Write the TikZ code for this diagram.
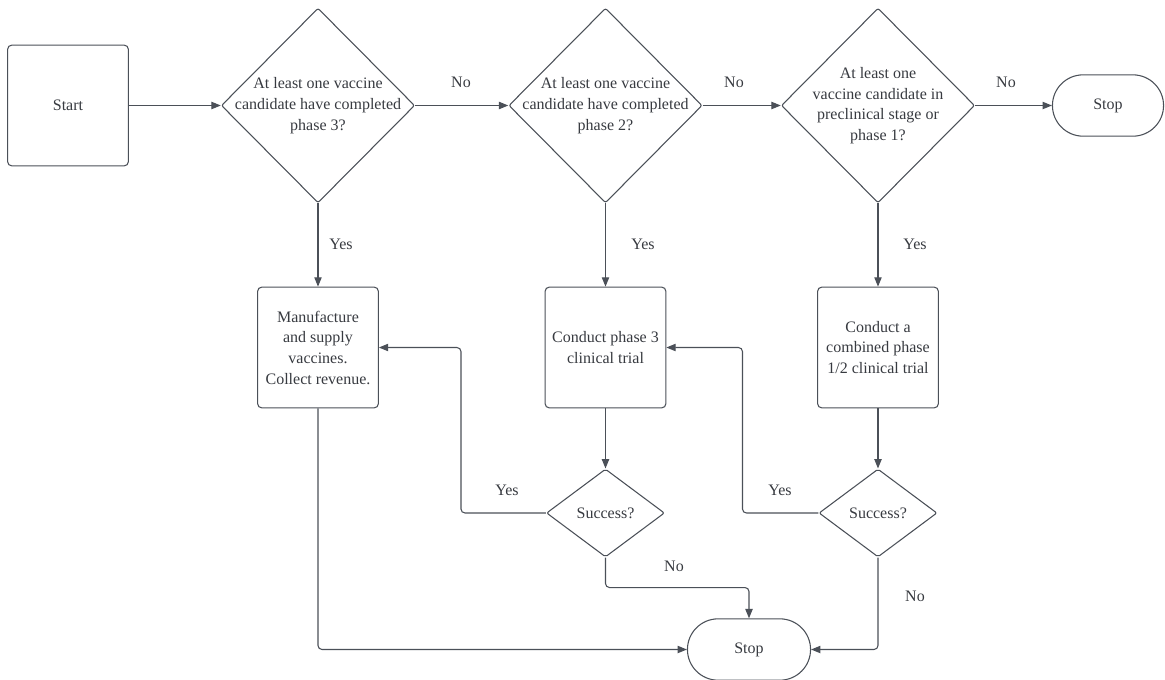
\documentclass[tikz,border=0pt]{standalone}
\usepackage{fontspec}
\setmainfont{Liberation Serif}
\usetikzlibrary{shapes.geometric, shapes.misc, arrows.meta}
\definecolor{FlowLine}{RGB}{75,80,88}
\definecolor{FlowText}{RGB}{55,58,64}

\begin{document}
\begin{tikzpicture}[x=0.75pt, y=-0.75pt,
            bx/.style={rectangle, draw=FlowLine, line width=0.8pt, rounded corners=3pt,
                       minimum width=90.5pt, minimum height=90.5pt, align=center,
                       font=\fontsize{12}{15.5}\selectfont, text=FlowText},
            dec/.style={diamond, draw=FlowLine, line width=0.8pt, inner sep=0pt,
                        rounded corners=1.5pt},
            qtxt/.style={align=center, font=\fontsize{12}{15.5}\selectfont, text=FlowText},
            term/.style={rounded rectangle, draw=FlowLine, line width=0.8pt,
                         minimum height=46pt, font=\fontsize{12}{15.5}\selectfont, text=FlowText},
            lab/.style={font=\fontsize{12}{15.5}\selectfont, text=FlowText},
            arr/.style={-{Triangle[length=7pt, width=5.5pt]}, draw=FlowLine,
                        line width=0.8pt, rounded corners=3pt}
          ]
          \clip (0,0) rectangle (1165,679);
          % top row
          \node[bx] (start) at (68,105.5) {Start};
          \node[dec, minimum width=145pt, minimum height=146pt,
                label={[qtxt]center:At least one vaccine\\candidate have completed\\phase 3?}]
                (q1) at (318,105.5) {};
          \node[dec, minimum width=145pt, minimum height=146pt,
                label={[qtxt]center:At least one vaccine\\candidate have completed\\phase 2?}]
                (q2) at (605.5,105.5) {};
          \node[dec, minimum width=145pt, minimum height=146pt,
                label={[qtxt]center:At least one\\vaccine candidate in\\preclinical stage or\\phase 1?}]
                (q3) at (878,105.5) {};
          \node[term, minimum width=90pt] (stop1) at (1108,105.5) {Stop};

          % middle row
          \node[bx] (b1) at (318,347.5)
                {Manufacture\\and supply\\vaccines.\\Collect revenue.};
          \node[bx] (b2) at (605.5,347.5) {Conduct phase 3\\clinical trial};
          \node[bx] (b3) at (878,347.5) {Conduct a\\combined phase\\1/2 clinical trial};

          % checks and end
          \node[dec, minimum width=88.5pt, minimum height=66pt,
                label={[qtxt]center:Success?}] (s2) at (605.5,513) {};
          \node[dec, minimum width=88.5pt, minimum height=66pt,
                label={[qtxt]center:Success?}] (s3) at (878,513) {};
          \node[term, minimum width=99pt] (stop2) at (749,649.5) {Stop};

          \draw[arr] (start) -- (q1);
          \draw[arr] (q1) -- (q2);
          \draw[arr] (q2) -- (q3);
          \draw[arr] (q3) -- (stop1);
          \draw[arr] (q1) -- (b1);
          \draw[arr] (q2) -- (b2);
          \draw[arr] (q3) -- (b3);
          \draw[arr] (b2) -- (s2);
          \draw[arr] (b3) -- (s3);
          \draw[arr] (s2.west) -- ++(-85,0) |- (b1.east);
          \draw[arr] (s3.west) -- ++(-76,0) |- (b2.east);
          \draw[arr] (s2.south) -- ++(0,30) -| (stop2.north);
          \draw[arr] (s3.south) |- (stop2.east);
          \draw[arr] (b1.south) |- (stop2.west);

          \node[lab] (no1) at (461,82) {No};
          \node[lab] (no2) at (734,82) {No};
          \node[lab] (no3) at (1006,82) {No};
          \node[lab] (yes1) at (341,244) {Yes};
          \node[lab] (yes2) at (643,244) {Yes};
          \node[lab] (yes3) at (915,244) {Yes};
          \node[lab] (yes4) at (507,490) {Yes};
          \node[lab] (yes5) at (780,490) {Yes};
          \node[lab] (no4) at (674,566) {No};
          \node[lab] (no5) at (915,596) {No};
        \end{tikzpicture}
\end{document}
